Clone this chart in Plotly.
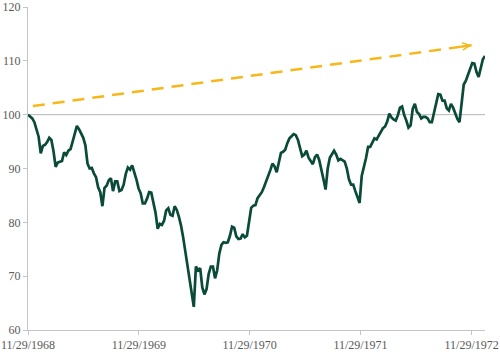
import pandas as pd
import plotly.graph_objects as go

# Weekly index level (start = 100)
START_DATE = "1968-11-29"
index_values = [
    100.0, 99.7, 99.3, 98.6, 97.3, 95.9, 92.8, 94.2, 94.4, 94.9,
    95.7, 95.3, 93.2, 90.3, 91.1, 91.3, 91.4, 93.0, 92.5, 93.3,
    93.6, 95.0, 96.7, 97.9, 97.3, 96.4, 95.7, 94.3, 90.9, 90.0,
    90.1, 89.1, 88.4, 86.5, 85.6, 83.0, 86.4, 86.8, 87.8, 88.2,
    85.8, 87.6, 87.6, 85.8, 86.0, 87.0, 89.0, 90.2, 89.8, 90.6,
    89.5, 88.0, 86.3, 85.4, 83.5, 83.5, 84.4, 85.6, 85.5, 83.9,
    81.8, 78.8, 79.7, 79.5, 80.3, 82.2, 82.6, 81.4, 81.2, 83.0,
    82.3, 81.0, 79.4, 77.2, 74.6, 72.2, 70.1, 67.7, 64.3, 71.8,
    71.1, 71.5, 67.9, 66.6, 67.6, 70.4, 71.8, 71.8, 69.6, 71.1,
    74.2, 75.8, 76.3, 76.2, 76.3, 77.5, 79.2, 79.0, 77.4, 76.9,
    77.0, 77.8, 77.2, 77.5, 80.4, 82.7, 83.1, 83.2, 84.5, 85.1,
    85.6, 86.5, 87.5, 88.7, 89.7, 90.9, 90.4, 89.3, 91.2, 92.9,
    93.1, 93.5, 94.7, 95.6, 96.0, 96.4, 96.2, 95.3, 93.8, 92.3,
    92.6, 93.3, 92.0, 91.4, 90.8, 92.1, 92.6, 91.6, 90.0, 88.0,
    86.1, 90.0, 92.0, 92.6, 93.3, 92.6, 91.5, 91.8, 91.6, 91.3,
    90.0, 88.0, 87.0, 87.0, 85.8, 84.5, 83.6, 88.6, 90.0, 91.9,
    94.0, 94.0, 94.8, 95.6, 95.4, 96.2, 97.0, 97.5, 97.8, 98.7,
    100.2, 99.5, 99.1, 98.9, 99.9, 101.3, 101.5, 99.9, 98.9, 97.6,
    98.0, 101.1, 102.0, 100.5, 100.1, 99.3, 99.6, 99.6, 99.3, 98.6,
    98.6, 100.4, 101.7, 103.8, 103.7, 102.6, 102.6, 101.2, 100.8, 102.0,
    101.3, 100.1, 99.2, 98.6, 102.8, 105.6, 106.3, 107.3, 108.6, 109.6,
    109.5, 107.9, 107.0, 108.8, 110.3, 110.9,
]
dates = pd.date_range(START_DATE, periods=len(index_values), freq="7D")

# Axis ticks
x_tick_dates = ["1968-11-29", "1969-11-29", "1970-11-29", "1971-11-29", "1972-11-29"]
x_tick_labels = ["11/29/1968", "11/29/1969", "11/29/1970", "11/29/1971", "11/29/1972"]
y_ticks = [60, 70, 80, 90, 100, 110, 120]
X_RANGE = ["1968-11-29", "1973-01-12"]
Y_RANGE = [60, 120]
BASELINE = 100

# Trend arrow (dashed) endpoints
arrow_dates = ["1968-12-15", "1972-11-29"]
arrow_values = [101.6, 112.9]
arrow_tail_date = "1972-10-20"
arrow_tail_value = 112.6

GREEN = "#0a4a38"
GOLD = "#f7b719"
GRAY_TXT = "#595959"
AXIS_GRAY = "#c4c4c4"

fig = go.Figure()

fig.add_shape(type="line", xref="paper", yref="y", x0=0, x1=1,
              y0=BASELINE, y1=BASELINE,
              line=dict(color="#b5b5b5", width=1), layer="below")

fig.add_trace(go.Scatter(
    x=arrow_dates, y=arrow_values, mode="lines",
    line=dict(color=GOLD, width=2.5, dash="12px,8px"),
    hoverinfo="skip", showlegend=False,
))

fig.add_trace(go.Scatter(
    x=dates, y=index_values, mode="lines",
    line=dict(color=GREEN, width=2.7),
    showlegend=False,
))

fig.add_annotation(
    x=arrow_dates[1], y=arrow_values[1], xref="x", yref="y",
    ax=arrow_tail_date, ay=arrow_tail_value, axref="x", ayref="y",
    text="", showarrow=True, arrowhead=5, arrowsize=0.6,
    arrowwidth=2.5, arrowcolor=GOLD,
)

fig.update_layout(
    width=500, height=352,
    margin=dict(l=28, r=15, t=7, b=22),
    paper_bgcolor="white", plot_bgcolor="white",
    font=dict(family="Liberation Serif", size=12, color=GRAY_TXT),
    showlegend=False,
)

fig.update_xaxes(
    type="date", range=X_RANGE, automargin=False,
    tickmode="array", tickvals=x_tick_dates, ticktext=x_tick_labels,
    ticks="outside", ticklen=4, tickcolor=AXIS_GRAY, tickwidth=1,
    showline=True, linecolor=AXIS_GRAY, linewidth=1,
    showgrid=False, zeroline=False,
)
fig.update_yaxes(
    range=Y_RANGE, tickmode="array", tickvals=y_ticks, automargin=False,
    ticks="outside", ticklen=4, tickcolor=AXIS_GRAY, tickwidth=1,
    showline=True, linecolor=AXIS_GRAY, linewidth=1,
    showgrid=False, zeroline=False,
)

fig.write_html("out.html")
